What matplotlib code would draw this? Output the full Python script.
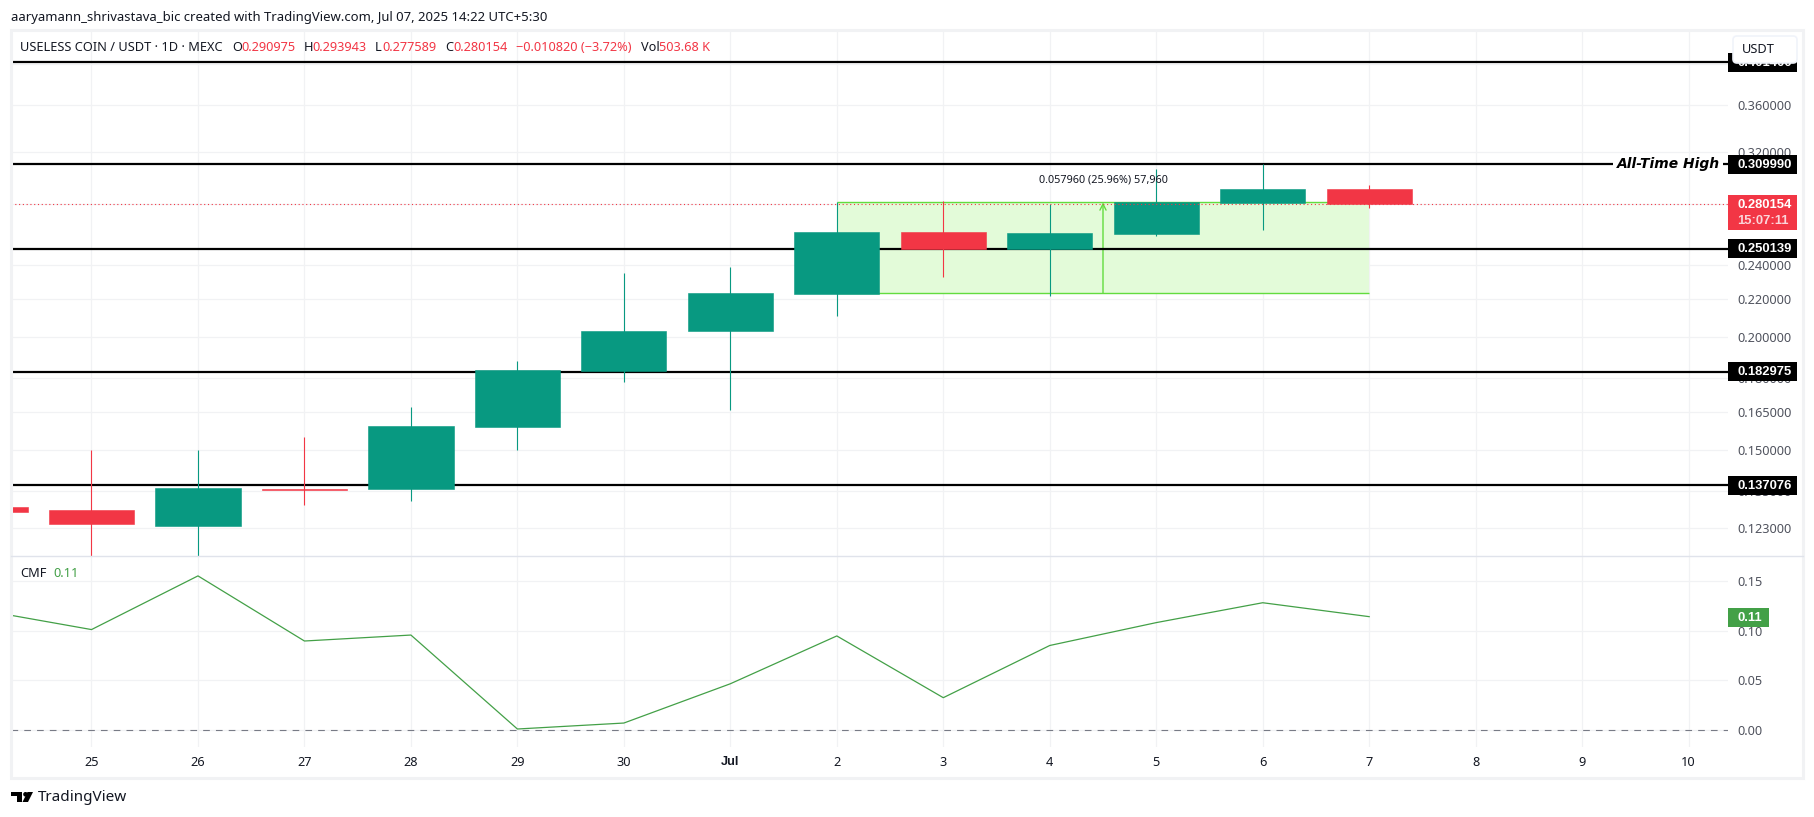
import matplotlib
matplotlib.use("Agg")
import matplotlib.pyplot as plt
from matplotlib.patches import Circle, FancyBboxPatch, Polygon, Rectangle
from matplotlib.ticker import NullLocator
from matplotlib.transforms import Affine2D

WIDTH, HEIGHT = 1814, 817
GREEN = "#089981"
RED = "#f23645"
INK = "#131722"
GRID = "#f1f2f4"

plt.rcParams["font.family"] = ["Noto Sans", "DejaVu Sans"]

# jun 24 .. jul 7, jun 24 sits mostly off the left edge
candle_days = [-1, 0, 1, 2, 3, 4, 5, 6, 7, 8, 9, 10, 11, 12]
opens = [0.1297, 0.1287, 0.1236, 0.1358, 0.1358, 0.1590, 0.1834, 0.2029, 0.2231, 0.2609, 0.2499, 0.2599, 0.2811, 0.290975]
highs = [0.1350, 0.1500, 0.1500, 0.1550, 0.1673, 0.1880, 0.2351, 0.2387, 0.2818, 0.2823, 0.2802, 0.3062, 0.3101, 0.293943]
lows = [0.1250, 0.1120, 0.1130, 0.1304, 0.1317, 0.1500, 0.1782, 0.1660, 0.2109, 0.2329, 0.2219, 0.2585, 0.2622, 0.277589]
closes = [0.1281, 0.1242, 0.1362, 0.1356, 0.1594, 0.1838, 0.2029, 0.2235, 0.2609, 0.2499, 0.2603, 0.2816, 0.2910, 0.280154]

cmf_values = [0.120, 0.101, 0.155, 0.0895, 0.0955, 0.001, 0.007, 0.0465, 0.0946, 0.0325, 0.085, 0.108, 0.128, 0.114]

day_labels = ["25", "26", "27", "28", "29", "30", "Jul", "2", "3", "4", "5", "6", "7", "8", "9", "10"]

price_ticks = [0.40, 0.36, 0.32, 0.28, 0.24, 0.22, 0.20, 0.18, 0.165, 0.15, 0.135, 0.123]
price_tick_labels = ["0.400000", "0.360000", "0.320000", "0.280000", "0.240000", "0.220000",
                     "0.200000", "0.180000", "0.165000", "0.150000", "0.135000", "0.123000"]
cmf_ticks = [0.0, 0.05, 0.10, 0.15]
cmf_tick_labels = ["0.00", "0.05", "0.10", "0.15"]

levels = [0.4014, 0.250139, 0.182975, 0.137076]
level_labels = ["0.401400", "0.250139", "0.182975", "0.137076"]
ath_level = 0.309990
last_price = 0.280154

range_start, range_end = 7, 12
range_low, range_high = 0.2233, 0.2813

fig = plt.figure(figsize=(WIDTH / 100, HEIGHT / 100), dpi=100, facecolor="white")
# image pixels, y pointing down, for everything outside the data
px = Affine2D().scale(1 / WIDTH, -1 / HEIGHT).translate(0, 1) + fig.transFigure

ax = fig.add_axes([11 / WIDTH, (HEIGHT - 556) / HEIGHT, 1717 / WIDTH, 526 / HEIGHT])
ax_cmf = fig.add_axes([11 / WIDTH, (HEIGHT - 747) / HEIGHT, 1717 / WIDTH, 191 / HEIGHT], sharex=ax)

x_min, x_max = -0.756, 15.37

for axis in (ax, ax_cmf):
    axis.set_axisbelow(True)
    axis.grid(True, color=GRID, linewidth=0.9)
    for spine in axis.spines.values():
        spine.set_visible(False)
    axis.yaxis.tick_right()
    axis.tick_params(axis="y", length=0, pad=6.4, labelsize=9.2, labelcolor="#50535e")
    axis.tick_params(axis="x", length=0)

ax.set_yscale("log")
ax.set_xlim(x_min, x_max)
ax.set_ylim(0.1146, 0.4359)
ax.yaxis.set_minor_locator(NullLocator())
ax.set_yticks(price_ticks, labels=price_tick_labels)
ax.yaxis.set_minor_locator(NullLocator())
ax.tick_params(axis="x", labelbottom=False)

# measure tool box
ax.fill_between([range_start, range_end], range_low, range_high, color="#e3fbd9", linewidth=0, zorder=1)
ax.hlines([range_low, range_high], range_start, range_end, color="#62dc3e", linewidth=1.0, zorder=1.2)
mid_x = (range_start + range_end) / 2
ax.annotate("", xy=(mid_x, range_high), xytext=(mid_x, range_low),
            arrowprops=dict(arrowstyle="->", color="#62dc3e", lw=1.0, shrinkA=0, shrinkB=0, mutation_scale=11),
            zorder=1.2)
ax.text(mid_x, 0.2975, "0.057960 (25.96%) 57,960", ha="center", va="center", fontsize=7.8, color=INK, zorder=6)

ax.hlines(levels, x_min, x_max, color="black", linewidth=1.6, zorder=2)
ax.hlines(ath_level, x_min, 14.29, color="black", linewidth=1.6, zorder=2)
ax.hlines(ath_level, 15.32, x_max, color="black", linewidth=1.6, zorder=2)
ax.text(14.81, ath_level, "All-Time High", ha="center", va="center", fontsize=10,
        family="DejaVu Sans", fontweight="bold", fontstyle="italic", color="black", zorder=6)

colors = [GREEN if c >= o else RED for o, c in zip(opens, closes)]
ax.vlines(candle_days, lows, highs, colors=colors, linewidth=0.8, zorder=3)
ax.bar(candle_days, [abs(c - o) for o, c in zip(opens, closes)], bottom=[min(o, c) for o, c in zip(opens, closes)],
       width=0.8, color=colors, edgecolor=colors, linewidth=0.4, zorder=4)
ax.axhline(last_price, color=RED, linewidth=0.8, linestyle=(0, (1, 2.4)), zorder=5)

ax_cmf.set_ylim(-0.0171, 0.175)
ax_cmf.set_yticks(cmf_ticks, labels=cmf_tick_labels)
ax_cmf.set_xticks(range(len(day_labels)), labels=day_labels)
ax_cmf.tick_params(axis="x", pad=6.5, labelsize=9.2, labelcolor=INK)
jul_label = ax_cmf.get_xticklabels()[6]
jul_label.set_family("Liberation Sans")
jul_label.set_fontweight("bold")
ax_cmf.axhline(0, color="#787b86", linewidth=0.8, linestyle=(0, (6, 5.5)), zorder=1.5)
ax_cmf.plot(candle_days, cmf_values, color="#43a047", linewidth=0.9, zorder=3)


def data_to_py(axis, value):
    return HEIGHT - axis.transData.transform((0, value))[1]


def tag_text(y, label, color="white"):
    fig.text(1737, y, label, transform=px, color=color, fontsize=9.4, family="Liberation Sans",
             fontweight="bold", va="center", ha="left", zorder=6)


def price_tag(value, label, axis=ax, color="black", width=69, height=19):
    y = data_to_py(axis, value)
    fig.add_artist(Rectangle((1728, y - height / 2), width, height, transform=px, color=color, linewidth=0, zorder=5))
    tag_text(y + 0.5, label)


for value, label in zip(levels, level_labels):
    price_tag(value, label)
price_tag(ath_level, "0.309990")
price_tag(0.1131, "0.11", axis=ax_cmf, color="#43a047", width=41)

# last price tag with the countdown
fig.add_artist(Rectangle((1728, 195), 69, 35, transform=px, color=RED, linewidth=0, zorder=5))
tag_text(205, "0.280154")
tag_text(221, "15:07:11", color="#fbd5da")

# unit button sits on top of the highest level tag
fig.add_artist(FancyBboxPatch((1733, 36), 64, 27, boxstyle="round,pad=0,rounding_size=4", transform=px,
                              facecolor="white", edgecolor="#f0f3fa", linewidth=1.2, zorder=7))
fig.text(1742, 49.5, "USDT", transform=px, color=INK, fontsize=9.2, va="center", zorder=8)

# outer frame and pane divider
fig.add_artist(Rectangle((10.5, 30), 1792.5, 748, transform=px, fill=False, edgecolor=GRID, linewidth=2.2, zorder=4))
fig.add_artist(plt.Line2D([11, 1803], [556, 556], transform=px, color="#e0e3eb", linewidth=1.0, zorder=4))

fig.text(11, 18, "aaryamann_shrivastava_bic created with TradingView.com, Jul 07, 2025 14:22 UTC+5:30",
         transform=px, color=INK, fontsize=9.45, va="center")

header_parts = [
    (20, "USELESS COIN / USDT · 1D · MEXC", INK),
    (232, "O", INK), (241, "0.290975", RED),
    (304, "H", INK), (312, "0.293943", RED),
    (375, "L", INK), (382, "0.277589", RED),
    (445, "C", INK), (453, "0.280154", RED),
    (516, "−0.010820 (−3.72%)", RED),
    (641, "Vol", INK), (659, "503.68 K", RED),
]
for x, text, color in header_parts:
    fig.text(x, 47.5, text, transform=px, color=color, fontsize=9.2, va="center", zorder=6)

fig.text(20, 574, "CMF", transform=px, color=INK, fontsize=9.2, va="center", zorder=6)
fig.text(53, 574, "0.11", transform=px, color="#43a047", fontsize=9.2, va="center", zorder=6)

# logo
fig.add_artist(Polygon([(11, 792), (22, 792), (22, 802), (17, 802), (17, 796.5), (11, 796.5)], transform=px, color="black", linewidth=0))
fig.add_artist(Circle((25.5, 794.3), 2.3, transform=px, color="black", linewidth=0))
fig.add_artist(Polygon([(33, 792), (28, 802), (22.5, 802), (27.5, 792)], transform=px, color="black", linewidth=0))
fig.text(38, 798, "TradingView", transform=px, color=INK, fontsize=11, va="center")

fig.savefig("out.png", dpi=100)
plt.close(fig)
